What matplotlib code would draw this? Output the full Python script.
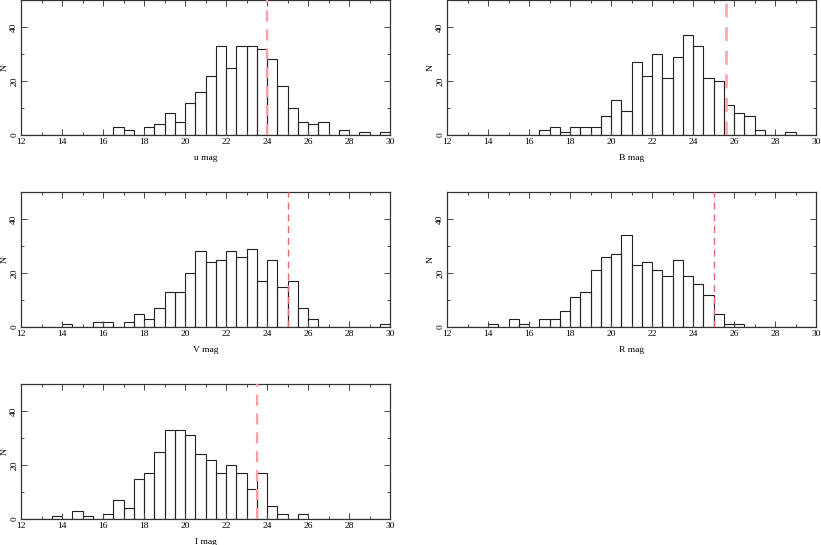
import numpy as np
import matplotlib
matplotlib.use("Agg")
import matplotlib.pyplot as plt
from matplotlib.ticker import MultipleLocator

edges = np.arange(12.0, 30.0, 0.5)  # left edges of 0.5-mag bins

u_counts = [0,0,0,0,0,0,0,0,0, 3,2,0,3,4,8,5,12,16,22,33,25,33,33,32,28,18,10,5,4,5,0,2,0,1,0,1]
B_counts = [0,0,0,0,0,0,0,0,0, 2,3,1,3,3,3,7,13,9,27,22,30,21,29,37,33,21,20,11,8,7,2,0,0,1,0,0]
V_counts = [0,0,0,0,1,0,0,2,2,0,2,5,3,7,13,13,20,28,24,25,28,26,29,17,25,15,17,7,3,0,0,0,0,0,0,1]
R_counts = [0,0,0,0,1,0,3,1,0,3,3,6,11,13,21,26,27,34,23,24,21,19,25,19,16,12,5,1,1,0,0,0,0,0,0,0]
I_counts = [0,0,0,1,0,3,1,0,2,7,4,15,17,25,33,33,31,24,22,17,20,17,11,17,5,2,0,2,0,0,0,0,0,0,0,0]

labels = ["u mag", "B mag", "V mag", "R mag", "I mag"]
limits = [24.0, 25.6, 25.0, 25.0, 23.5]
counts = [u_counts, B_counts, V_counts, R_counts, I_counts]

W, H = 821, 545
fig = plt.figure(figsize=(W / 100, H / 100), dpi=100)

# axes rectangles in pixels: (left, top, right, bottom)
rects = [(21, 0, 390, 135), (447, 0, 816, 135),
         (21, 192, 390, 327), (447, 192, 816, 327),
         (21, 384, 390, 519)]
line_styles = [dict(color="#ff9da0", lw=1.6), dict(color="#ffa8ad", lw=2.0),
               dict(color="#e8686c", lw=1.0), dict(color="#e8686c", lw=1.0),
               dict(color="#ff9da0", lw=1.6)]

font = dict(family=["Liberation Serif", "DejaVu Serif"], size=6.8)

for rect, c, lab, lim, ls in zip(rects, counts, labels, limits, line_styles):
    l, t, r, b = rect
    ax = fig.add_axes([l / W, 1 - b / H, (r - l) / W, (b - t) / H])
    ax.bar(edges, c, width=0.5, align="edge", fill=False,
           edgecolor="#222222", linewidth=0.8)
    ax.axvline(lim, linestyle=(0, (5, 3.5)), zorder=3, **ls)
    ax.set_xlim(12, 30)
    ax.set_ylim(0, 50)
    ax.xaxis.set_major_locator(MultipleLocator(2))
    ax.xaxis.set_minor_locator(MultipleLocator(1))
    ax.yaxis.set_major_locator(MultipleLocator(20))
    ax.yaxis.set_minor_locator(MultipleLocator(10))
    ax.tick_params(which="both", direction="in", top=True, right=True,
                   color="#444444", width=0.7)
    ax.tick_params(which="major", length=4, pad=2)
    ax.tick_params(which="minor", length=2.5)
    for sp in ax.spines.values():
        sp.set_linewidth(0.9)
        sp.set_color("#333333")
    ax.set_xticklabels([f"{int(v)}" for v in ax.get_xticks()], **font)
    yt = ax.get_yticks()
    ax.set_yticks(yt)
    ax.set_yticklabels([f"{int(v)}" for v in yt], rotation=90, va="center", **font)
    ax.set_ylim(0, 50)
    ax.set_xlabel(lab, labelpad=6, **font)
    ax.text(-0.045, 0.5, "N", transform=ax.transAxes, rotation=90,
            ha="center", va="center", **font)

fig.savefig("out.png", dpi=100)
